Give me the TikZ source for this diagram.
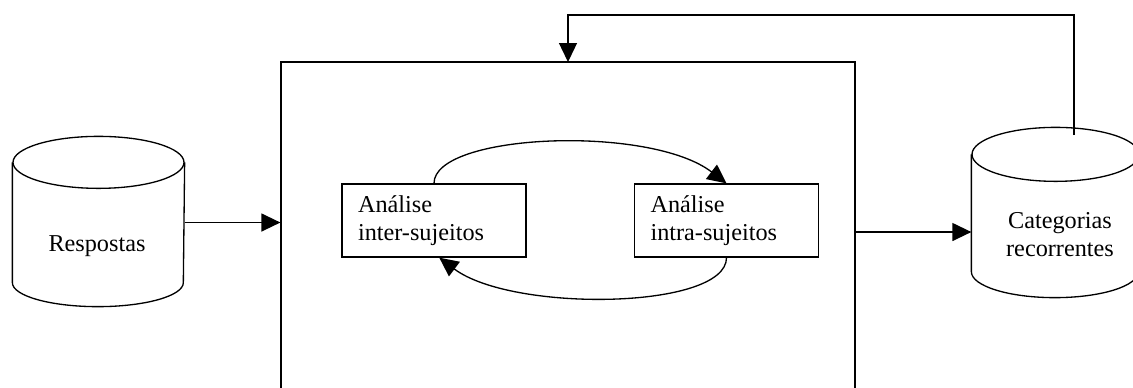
\documentclass[tikz,border=0pt]{standalone}
\usepackage{fontspec}
\setmainfont{Liberation Serif}
\usetikzlibrary{arrows.meta}

\begin{document}
\begin{tikzpicture}[x=0.02cm,y=-0.02cm,line width=0.75pt,
	every node/.style={font=\fontsize{13.8}{16}\selectfont},
	body/.style={inner sep=0pt},
	stepbox/.style={draw,minimum width=3.68cm,minimum height=1.46cm,text width=3.04cm,
		inner xsep=0.32cm,align=left},
	arr/.style={-{Triangle[length=0.38cm,width=0.36cm]}}]
	\useasboundingbox (0,0) rectangle (1133,387);
	% stores
	\node [body,minimum width=3.42cm,minimum height=2.38cm] (resp) at (98.5,222.5) {};
	\draw (resp.north west) -- (resp.south west) arc [start angle=180,end angle=360,x radius=1.71cm,y radius=0.48cm] -- (resp.north east);
	\draw (resp.north) ellipse [x radius=1.71cm,y radius=0.52cm];
	\node (resptxt) at (97,246) {Respostas};
	\node [body,minimum width=3.34cm,minimum height=2.32cm] (cat) at (1055.5,213) {};
	\draw (cat.north west) -- (cat.south west) arc [start angle=180,end angle=360,x radius=1.67cm,y radius=0.52cm] -- (cat.north east);
	\draw (cat.north) ellipse [x radius=1.67cm,y radius=0.54cm];
	\node [align=center] (cattxt) at (1060,235) {Categorias\\recorrentes};
	% process
	\node [draw,minimum width=11.48cm,minimum height=6.6cm] (main) at (568,227) {};
	\node [stepbox] (inter) at (434,220.5) {Análise\\inter-sujeitos};
	\node [stepbox] (intra) at (726.5,220.5) {Análise\\intra-sujeitos};
	\coordinate (out) at (855,232);
	\coordinate (fb) at (1074,135);
	\coordinate (fbin) at (568,62);
	% connectors
	\draw [arr] (resp.east) -- (resp.east -| main.west);
	\draw [arr] (inter.north) .. controls +(0,-50) and +(-77,-59) .. (intra.north);
	\draw [arr] (intra.south) .. controls +(0,52) and +(73,55) .. ([xshift=3]inter.south);
	\draw [arr] (out) -- (out -| cat.west);
	\draw [arr] (fb) -- ++(0,-120) -| (fbin);
\end{tikzpicture}
\end{document}
